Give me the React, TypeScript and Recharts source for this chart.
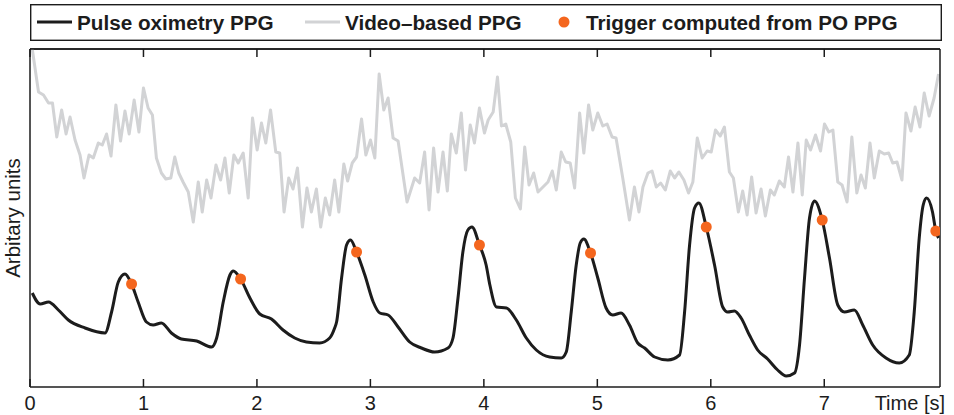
import React from "react"
import { ComposedChart, Line, Scatter, XAxis, YAxis, Legend, ReferenceLine } from "recharts"

// time [s] / arbitrary units
const xTicks = [0, 1, 2, 3, 4, 5, 6, 7]

const poPpg: [number, number][] = [
  [0.02, 94], [0.09, 83], [0.163, 85], [0.25, 77], [0.338, 67], [0.485, 59], [0.661, 54], [0.719, 75],
  [0.778, 105], [0.837, 113], [0.895, 103], [0.953, 85], [1.026, 65], [1.085, 62], [1.158, 64], [1.246, 54],
  [1.334, 48], [1.469, 46], [1.601, 40], [1.645, 49], [1.703, 85], [1.762, 112], [1.791, 116], [1.856, 108],
  [1.938, 89], [2.025, 73], [2.128, 68], [2.23, 57], [2.333, 49], [2.436, 45], [2.553, 44], [2.641, 49],
  [2.685, 59], [2.702, 65], [2.746, 109], [2.79, 142], [2.825, 147], [2.878, 135], [2.951, 112], [3.025, 85],
  [3.083, 74], [3.156, 72], [3.244, 60], [3.346, 45], [3.449, 39], [3.566, 35], [3.684, 39], [3.728, 49],
  [3.772, 89], [3.815, 135], [3.859, 157], [3.895, 160], [3.961, 142], [4.02, 122], [4.053, 102], [4.111, 80],
  [4.199, 79], [4.286, 67], [4.374, 49], [4.462, 37], [4.58, 30], [4.682, 29], [4.726, 35], [4.77, 75],
  [4.814, 122], [4.849, 144], [4.881, 148], [4.94, 134], [5.004, 109], [5.077, 79], [5.136, 72], [5.209, 74],
  [5.283, 62], [5.356, 44], [5.417, 39], [5.505, 30], [5.622, 27], [5.725, 32], [5.769, 75], [5.813, 142],
  [5.857, 179], [5.895, 184], [5.96, 160], [6.033, 122], [6.105, 80], [6.149, 75], [6.208, 76], [6.267, 69],
  [6.34, 52], [6.413, 37], [6.501, 28], [6.589, 17], [6.665, 11], [6.738, 14], [6.782, 42], [6.826, 109],
  [6.87, 169], [6.914, 186], [6.982, 167], [7.046, 129], [7.119, 82], [7.178, 75], [7.265, 77], [7.339, 62],
  [7.427, 42], [7.544, 29], [7.661, 24], [7.749, 32], [7.793, 75], [7.837, 149], [7.872, 182], [7.902, 189],
  [7.954, 175], [7.983, 156], [8.007, 149],
]

const videoPpg: [number, number][] = [
  [0.02, 338], [0.075, 295], [0.119, 292], [0.163, 284], [0.198, 284], [0.236, 250], [0.279, 277], [0.318, 253],
  [0.353, 270], [0.397, 247], [0.441, 232], [0.476, 209], [0.52, 232], [0.558, 229], [0.602, 244], [0.637, 242],
  [0.675, 253], [0.714, 231], [0.757, 282], [0.798, 246], [0.837, 276], [0.874, 253], [0.918, 287], [0.96, 255],
  [1.0, 299], [1.041, 279], [1.079, 272], [1.114, 229], [1.158, 214], [1.197, 208], [1.241, 209], [1.276, 230],
  [1.311, 214], [1.349, 205], [1.395, 195], [1.439, 165], [1.483, 205], [1.518, 175], [1.557, 207], [1.595, 189],
  [1.639, 222], [1.68, 207], [1.718, 229], [1.756, 194], [1.797, 232], [1.835, 224], [1.879, 234], [1.923, 189],
  [1.961, 269], [2.002, 237], [2.04, 264], [2.078, 244], [2.12, 277], [2.166, 235], [2.201, 234], [2.239, 175],
  [2.28, 209], [2.318, 198], [2.357, 219], [2.401, 160], [2.441, 199], [2.48, 175], [2.524, 198], [2.562, 160],
  [2.603, 189], [2.641, 172], [2.685, 207], [2.722, 175], [2.766, 223], [2.799, 206], [2.84, 224], [2.878, 230],
  [2.922, 268], [2.96, 232], [3.001, 247], [3.039, 229], [3.077, 313], [3.118, 277], [3.156, 289], [3.2, 249],
  [3.244, 246], [3.323, 185], [3.39, 209], [3.434, 204], [3.478, 235], [3.517, 177], [3.557, 239], [3.596, 195],
  [3.64, 235], [3.678, 196], [3.713, 253], [3.757, 234], [3.801, 274], [3.838, 217], [3.88, 262], [3.917, 244],
  [3.961, 279], [4.005, 254], [4.038, 267], [4.082, 275], [4.12, 310], [4.155, 261], [4.193, 263], [4.237, 245],
  [4.278, 189], [4.322, 178], [4.36, 240], [4.398, 202], [4.439, 214], [4.477, 195], [4.521, 200], [4.565, 205],
  [4.603, 216], [4.638, 197], [4.682, 235], [4.721, 225], [4.761, 224], [4.8, 199], [4.844, 274], [4.881, 234],
  [4.923, 282], [4.96, 257], [5.004, 274], [5.048, 261], [5.086, 263], [5.13, 250], [5.165, 249], [5.224, 209],
  [5.283, 167], [5.327, 200], [5.367, 175], [5.402, 200], [5.446, 214], [5.482, 216], [5.52, 200], [5.558, 204],
  [5.599, 197], [5.643, 216], [5.681, 209], [5.719, 215], [5.763, 207], [5.804, 194], [5.842, 205], [5.881, 249],
  [5.924, 229], [5.968, 236], [6.004, 235], [6.041, 257], [6.083, 251], [6.12, 260], [6.164, 215], [6.199, 209],
  [6.243, 175], [6.281, 196], [6.32, 172], [6.36, 210], [6.399, 174], [6.443, 198], [6.481, 171], [6.525, 197],
  [6.56, 192], [6.604, 206], [6.648, 200], [6.685, 230], [6.724, 195], [6.768, 244], [6.806, 192], [6.841, 247],
  [6.879, 237], [6.923, 252], [6.967, 236], [7.002, 263], [7.04, 255], [7.076, 257], [7.119, 205], [7.157, 202],
  [7.201, 185], [7.243, 250], [7.287, 194], [7.324, 212], [7.362, 199], [7.403, 244], [7.441, 209], [7.485, 236],
  [7.529, 233], [7.568, 234], [7.603, 224], [7.641, 225], [7.685, 207], [7.72, 274], [7.764, 256], [7.801, 280],
  [7.843, 260], [7.881, 294], [7.924, 271], [7.968, 289], [8.007, 313],
]

const triggers: [number, number][] = [
  [0.895, 103], [1.856, 108], [2.878, 135], [3.961, 142], [4.94, 134], [5.96, 160], [6.982, 167], [7.983, 156],
]

const legendLabels = ["Pulse oximetry PPG", "Video\u2013based PPG", "Trigger computed from PO PPG"]

const toRows = (pts: [number, number][]) => pts.map(([t, v]) => ({ t, v }))

const FONT = '"Liberation Sans", Arial, Helvetica, sans-serif'
const INK = "#1c1c1c"
const GREY = "#d2d3d5"
const ORANGE = "#f4661e"
const X_DOMAIN = [0, 8.02]
const Y_DOMAIN = [0, 338]
const TICK_LEN = 8

// legend box drawn without fill, so it never hides the plot frame
const renderLegend = () => (
  <svg width={912} height={37} style={{ display: "block", overflow: "visible" }}>
    <rect x={0.7} y={0.7} width={910.6} height={35.6} fill="none" stroke={INK} strokeWidth={1.4} />
    <g fontFamily={FONT} fontWeight="bold" fontSize={20.7} fill={INK}>
      <line x1={7} x2={42} y1={18} y2={18} stroke={INK} strokeWidth={3} />
      <text x={47} y={26}>{legendLabels[0]}</text>
      <line x1={275} x2={310} y1={18} y2={18} stroke={GREY} strokeWidth={3} />
      <text x={315} y={26}>{legendLabels[1]}</text>
      <circle cx={534} cy={18} r={5.5} fill={ORANGE} />
      <text x={556} y={26}>{legendLabels[2]}</text>
    </g>
  </svg>
)

// bottom tick: inward mark above the axis line + number below it
const BottomTick = (props: any) => {
  const { x, y, payload } = props
  return (
    <g>
      <line x1={x} x2={x} y1={y - TICK_LEN} y2={y} stroke={INK} strokeWidth={1.5} />
      <text x={x} y={y + 23} textAnchor="middle" fontFamily={FONT} fontSize={20} fill={INK}>
        {payload.value}
      </text>
    </g>
  )
}

// top tick: inward mark below the frame line, no number
const TopTick = (props: any) => {
  const { x, y } = props
  return <line x1={x} x2={x} y1={y} y2={y + TICK_LEN} stroke={INK} strokeWidth={1.5} />
}

const TimeLabel = (props: any) => {
  const vb = props.viewBox
  return (
    <text x={vb.x + vb.width + 5} y={vb.y + 23} textAnchor="end" fontFamily={FONT} fontSize={20} fill={INK}>
      Time [s]
    </text>
  )
}

const UnitsLabel = (props: any) => {
  const vb = props.viewBox
  const cx = vb.x + vb.width - 18
  const cy = vb.y + vb.height / 2
  return (
    <text
      x={cx}
      y={cy}
      transform={`rotate(-90, ${cx}, ${cy})`}
      textAnchor="middle"
      dominantBaseline="central"
      fontFamily={FONT}
      fontSize={20.5}
      fill={INK}
    >
      Arbitary units
    </text>
  )
}

const TriggerDot = (props: any) => <circle cx={props.cx} cy={props.cy} r={5.5} fill={ORANGE} />

export default function App() {
  const axisLine = { stroke: INK, strokeWidth: 1.5 }
  return (
    <div style={{ position: "absolute", left: 0, top: 0, width: 954, height: 415, background: "#fff", fontFamily: FONT }}>
      <ComposedChart width={954} height={415} margin={{ top: 37, right: 13, bottom: 0, left: 29 }}>
        {/* zero-height wrapper: the legend overflows into the top margin and reserves no space */}
        <Legend
          verticalAlign="top"
          content={renderLegend}
          wrapperStyle={{ top: 4, left: 30, width: 912, height: 0, overflow: "visible" }}
        />
        <XAxis
          dataKey="t"
          type="number"
          domain={X_DOMAIN}
          ticks={xTicks}
          allowDataOverflow
          height={28}
          axisLine={axisLine}
          tickLine={false}
          tickSize={0}
          tickMargin={0}
          tick={<BottomTick />}
          label={<TimeLabel />}
        />
        <XAxis
          xAxisId="top"
          orientation="top"
          dataKey="t"
          type="number"
          domain={X_DOMAIN}
          ticks={xTicks}
          allowDataOverflow
          height={12}
          axisLine={axisLine}
          tickLine={false}
          tickSize={0}
          tickMargin={0}
          tick={<TopTick />}
        />
        <YAxis
          type="number"
          domain={Y_DOMAIN}
          allowDataOverflow
          width={1}
          axisLine={axisLine}
          tickLine={false}
          tick={false}
          label={<UnitsLabel />}
        />
        <YAxis
          yAxisId="right"
          orientation="right"
          type="number"
          domain={Y_DOMAIN}
          width={1}
          axisLine={axisLine}
          tickLine={false}
          tick={false}
        />
        <ReferenceLine y={Y_DOMAIN[1]} stroke={INK} strokeWidth={1.5} ifOverflow="visible" />
        <Line
          data={toRows(videoPpg)}
          dataKey="v"
          type="linear"
          stroke={GREY}
          strokeWidth={3}
          strokeLinejoin="round"
          dot={false}
          activeDot={false}
          isAnimationActive={false}
        />
        <Line
          data={toRows(poPpg)}
          dataKey="v"
          type="monotone"
          stroke={INK}
          strokeWidth={3}
          strokeLinejoin="round"
          dot={false}
          activeDot={false}
          isAnimationActive={false}
        />
        <Scatter data={toRows(triggers)} dataKey="v" fill={ORANGE} shape={<TriggerDot />} isAnimationActive={false} />
      </ComposedChart>
    </div>
  )
}
